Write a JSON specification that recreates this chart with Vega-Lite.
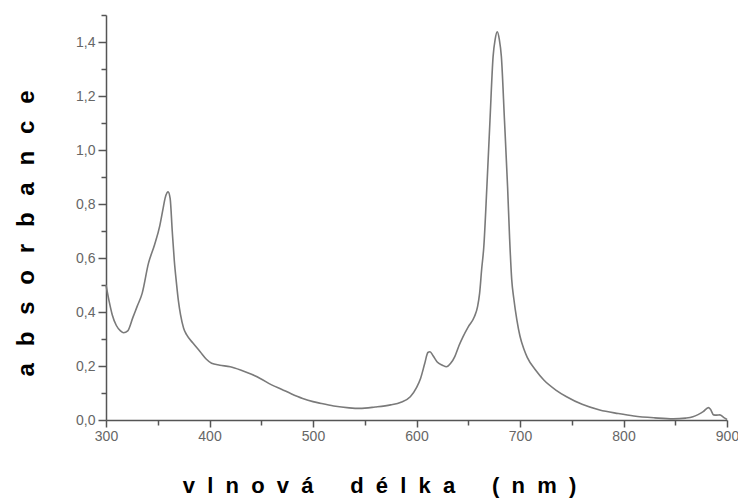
{
  "$schema": "https://vega.github.io/schema/vega-lite/v6.json",
  "width": 621,
  "height": 405,
  "autosize": {"type": "none"},
  "padding": {"left": 106, "top": 15, "right": 11, "bottom": 79},
  "background": "white",
  "config": {"view": {"stroke": null}, "font": "Liberation Sans"},
  "data": {"values": [
    {"wl": 300, "a": 0.50}, {"wl": 303, "a": 0.44}, {"wl": 306, "a": 0.39}, {"wl": 310, "a": 0.35},
    {"wl": 314, "a": 0.33}, {"wl": 317, "a": 0.323}, {"wl": 321, "a": 0.33}, {"wl": 326, "a": 0.38},
    {"wl": 330, "a": 0.42}, {"wl": 335, "a": 0.47}, {"wl": 341, "a": 0.58}, {"wl": 347, "a": 0.65},
    {"wl": 352, "a": 0.72}, {"wl": 355, "a": 0.78}, {"wl": 357, "a": 0.82}, {"wl": 359, "a": 0.842},
    {"wl": 360, "a": 0.845}, {"wl": 362, "a": 0.82}, {"wl": 364, "a": 0.70}, {"wl": 366, "a": 0.59},
    {"wl": 368, "a": 0.51}, {"wl": 370, "a": 0.44}, {"wl": 372, "a": 0.39}, {"wl": 375, "a": 0.34},
    {"wl": 378, "a": 0.315}, {"wl": 384, "a": 0.285}, {"wl": 391, "a": 0.253}, {"wl": 397, "a": 0.225},
    {"wl": 402, "a": 0.21}, {"wl": 410, "a": 0.203}, {"wl": 420, "a": 0.197}, {"wl": 430, "a": 0.185},
    {"wl": 440, "a": 0.17}, {"wl": 449, "a": 0.154}, {"wl": 460, "a": 0.13}, {"wl": 470, "a": 0.113},
    {"wl": 478, "a": 0.099}, {"wl": 490, "a": 0.08}, {"wl": 500, "a": 0.068}, {"wl": 507, "a": 0.062},
    {"wl": 520, "a": 0.052}, {"wl": 535, "a": 0.045}, {"wl": 545, "a": 0.043}, {"wl": 560, "a": 0.048},
    {"wl": 575, "a": 0.056}, {"wl": 585, "a": 0.066}, {"wl": 594, "a": 0.086}, {"wl": 600, "a": 0.12},
    {"wl": 604, "a": 0.155}, {"wl": 608, "a": 0.21}, {"wl": 611, "a": 0.25}, {"wl": 613, "a": 0.253},
    {"wl": 616, "a": 0.238}, {"wl": 620, "a": 0.215}, {"wl": 625, "a": 0.203}, {"wl": 629, "a": 0.197},
    {"wl": 633, "a": 0.21}, {"wl": 637, "a": 0.235}, {"wl": 641, "a": 0.275}, {"wl": 645, "a": 0.309},
    {"wl": 650, "a": 0.345}, {"wl": 656, "a": 0.383}, {"wl": 659, "a": 0.42}, {"wl": 661, "a": 0.47},
    {"wl": 663, "a": 0.56}, {"wl": 665, "a": 0.64}, {"wl": 668, "a": 0.864}, {"wl": 671, "a": 1.11},
    {"wl": 674, "a": 1.346}, {"wl": 676, "a": 1.41}, {"wl": 678, "a": 1.438}, {"wl": 680, "a": 1.41},
    {"wl": 682, "a": 1.346}, {"wl": 685, "a": 1.11}, {"wl": 688, "a": 0.864}, {"wl": 690, "a": 0.67},
    {"wl": 692, "a": 0.52}, {"wl": 694, "a": 0.45}, {"wl": 697, "a": 0.37}, {"wl": 700, "a": 0.31},
    {"wl": 704, "a": 0.26}, {"wl": 707, "a": 0.232}, {"wl": 715, "a": 0.185}, {"wl": 723, "a": 0.148},
    {"wl": 735, "a": 0.11}, {"wl": 745, "a": 0.086}, {"wl": 760, "a": 0.058}, {"wl": 777, "a": 0.037},
    {"wl": 795, "a": 0.024}, {"wl": 810, "a": 0.015}, {"wl": 830, "a": 0.008}, {"wl": 848, "a": 0.004},
    {"wl": 860, "a": 0.007}, {"wl": 867, "a": 0.012}, {"wl": 872, "a": 0.02}, {"wl": 877, "a": 0.031},
    {"wl": 882, "a": 0.046}, {"wl": 884, "a": 0.04}, {"wl": 887, "a": 0.019}, {"wl": 890, "a": 0.018},
    {"wl": 893, "a": 0.019}, {"wl": 897, "a": 0.009}, {"wl": 900, "a": 0.002}
  ]},
  "layer": [
    {
      "mark": {"type": "line", "color": "#7a7a7a", "strokeWidth": 1.6, "interpolate": "monotone"},
      "encoding": {
        "x": {"field": "wl", "type": "quantitative",
          "scale": {"domain": [300, 900], "nice": false, "zero": false},
          "axis": {"orient": "bottom", "values": [300, 400, 500, 600, 700, 800, 900], "format": "d",
            "grid": false, "domainColor": "#555", "domainWidth": 1.5, "tickColor": "#555", "tickWidth": 1.5,
            "tickSize": 7, "labelFontSize": 14, "labelColor": "#666", "labelPadding": 2, "labelFlush": false,
            "title": "v\u00a0\u00a0l\u00a0\u00a0n\u00a0\u00a0o\u00a0\u00a0v\u00a0\u00a0á\u00a0\u00a0\u00a0\u00a0\u00a0\u00a0d\u00a0\u00a0é\u00a0\u00a0l\u00a0\u00a0k\u00a0\u00a0a\u00a0\u00a0\u00a0\u00a0\u00a0\u00a0(\u00a0\u00a0n\u00a0\u00a0m\u00a0\u00a0)",
            "titleFontSize": 22, "titleFontWeight": "bold", "titleColor": "#000",
            "titleX": 273, "titleY": 72, "titleAlign": "center", "titleBaseline": "alphabetic", "titleAnchor": null}},
        "y": {"field": "a", "type": "quantitative",
          "scale": {"domain": [0, 1.5], "nice": false},
          "axis": {"orient": "left", "values": [0, 0.2, 0.4, 0.6, 0.8, 1.0, 1.2, 1.4],
            "labelExpr": "replace(format(datum.value, '.1f'), '.', ',')",
            "grid": false, "domainColor": "#555", "domainWidth": 1.5, "tickColor": "#555", "tickWidth": 1.5,
            "tickSize": 8, "labelFontSize": 14, "labelColor": "#666", "labelPadding": 3,
            "title": "a\u2002\u2009b\u2002\u2009s\u2002\u2009o\u2002\u2009r\u2002\u2009b\u2002\u2009a\u2002\u2009n\u2002\u2009c\u2002\u2009e",
            "titleFontSize": 24, "titleFontWeight": "bold", "titleColor": "#000",
            "titleX": -73, "titleY": 218, "titleAngle": -90, "titleAlign": "center", "titleBaseline": "alphabetic", "titleAnchor": null}}
      }
    },
    {
      "mark": {"type": "line", "opacity": 0},
      "encoding": {
        "x": {"field": "wl", "type": "quantitative",
          "scale": {"domain": [300, 900], "nice": false, "zero": false},
          "axis": {"orient": "bottom", "values": [350, 450, 550, 650, 750, 850], "labels": false, "domain": false,
            "grid": false, "tickColor": "#555", "tickWidth": 1.5, "tickSize": 5, "title": null}},
        "y": {"field": "a", "type": "quantitative",
          "scale": {"domain": [0, 1.5], "nice": false},
          "axis": {"orient": "left", "values": [0.1, 0.3, 0.5, 0.7, 0.9, 1.1, 1.3, 1.5], "labels": false, "domain": false,
            "grid": false, "tickColor": "#555", "tickWidth": 1.5, "tickSize": 5, "title": null}}
      }
    }
  ],
  "resolve": {"axis": {"x": "independent", "y": "independent"}}
}
